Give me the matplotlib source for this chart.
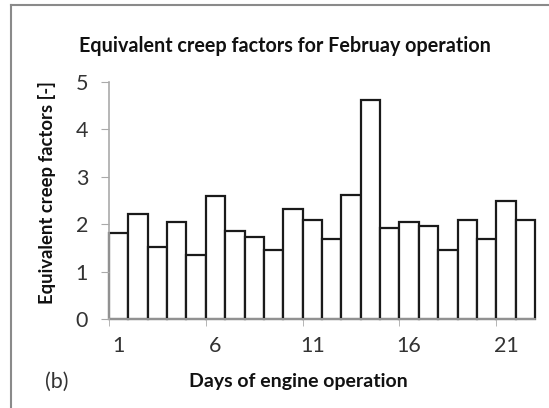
import matplotlib.pyplot as plt
import numpy as np
from matplotlib.lines import Line2D

days = np.arange(1, 23)
factors = [1.81, 2.22, 1.51, 2.05, 1.34, 2.60, 1.85, 1.72, 1.46, 2.32, 2.08,
           1.69, 2.62, 4.63, 1.91, 2.05, 1.96, 1.46, 2.08, 1.69, 2.50, 2.08]
xticklabels = ['1', '6', '11', '16', '21']

plt.rcParams['font.family'] = ['Lato', 'DejaVu Sans']

fig = plt.figure(figsize=(5.49, 4.08), dpi=100)
ax = fig.add_axes([109 / 549, 1 - 319 / 408, 426 / 549, 237 / 408])

bars = ax.bar(days, factors, width=1.0, color='white', edgecolor='#1a1a1a', linewidth=1.6)
for b in bars:
    b.set_clip_on(False)

ax.set_xlim(0.5, 22.5)
ax.set_ylim(0, 5)
ax.set_yticks(range(0, 6))
ax.set_xticks([1, 6, 11, 16, 21])
ax.set_xticklabels(xticklabels)
ax.set_xticks([0.5, 5.5, 10.5, 15.5, 20.5], minor=True)
ax.tick_params(axis='x', which='major', length=0, pad=12, labelsize=15.5)
ax.tick_params(axis='x', which='minor', length=5, color='#aaaaaa', direction='out')
ax.tick_params(axis='y', length=6, color='#aaaaaa', labelsize=15.5, pad=9)
for lab in ax.get_yticklabels() + ax.get_xticklabels():
    lab.set_color('#333333')

for s in ['top', 'right']:
    ax.spines[s].set_visible(False)
ax.spines['left'].set_color('#aaaaaa')
ax.spines['bottom'].set_color('#aaaaaa')
ax.spines['left'].set_linewidth(1.2)
ax.spines['bottom'].set_linewidth(1.2)

fig.text(285 / 549, 1 - 46 / 408, 'Equivalent creep factors for Februay operation',
         ha='center', va='center', fontsize=14.2, fontweight='bold', color='#111111')
fig.text(47 / 549, 1 - 193 / 408, 'Equivalent creep factors [-]', rotation=90,
         ha='center', va='center', fontsize=13.3, fontweight='bold', color='#111111')
fig.text(298 / 549, 1 - 382 / 408, 'Days of engine operation',
         ha='center', va='center', fontsize=14, fontweight='bold', color='#111111')
fig.text(57 / 549, 1 - 382 / 408, '(b)', ha='center', va='center', fontsize=15.5, color='#333333')

# chart frame (partially visible)
fig.add_artist(Line2D([11 / 549, 11 / 549], [0, 1 - 5 / 408], transform=fig.transFigure,
                      color='#8a8a8a', linewidth=1.5))
fig.add_artist(Line2D([11 / 549, 1], [1 - 5 / 408, 1 - 5 / 408], transform=fig.transFigure,
                      color='#8a8a8a', linewidth=1.5))

fig.savefig('out.png', dpi=100)
